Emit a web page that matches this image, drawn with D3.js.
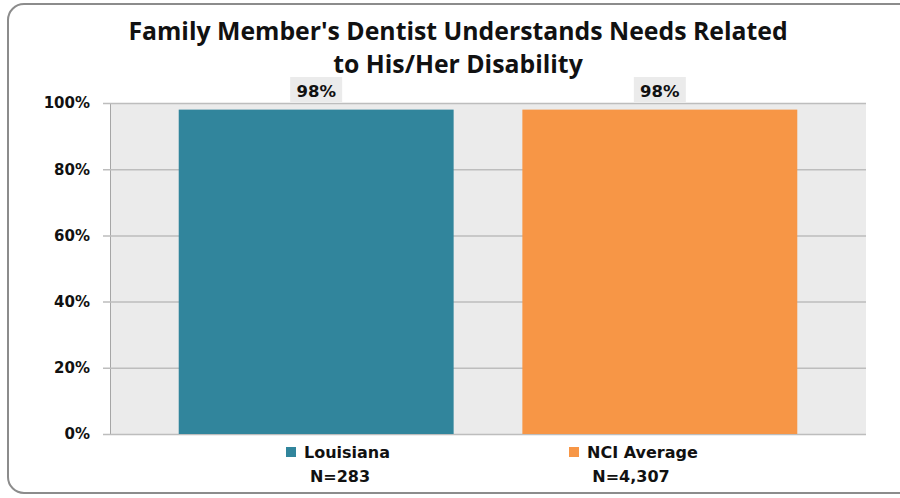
<!DOCTYPE html>
<html>
<head>
<meta charset="utf-8">
<script src="https://cdn.jsdelivr.net/npm/d3@7"></script>
<style>
  body { margin: 0; background: #fff; }
  svg { display: block; }
</style>
</head>
<body>
<div id="chart"></div>
<script>
const categories = ["Louisiana", "NCI Average"];
const values = [98, 98];
const sampleSizes = ["N=283", "N=4,307"];
const barColors = ["#31859c", "#f79646"];
const yTicks = [0, 20, 40, 60, 80, 100];
const titleLines = ["Family Member's Dentist Understands Needs Related", "to His/Her Disability"];

const W = 900, H = 498;
const plot = {left: 110, right: 866, top: 103, bottom: 434};
const textFont = "'Open Sans', Lato, sans-serif";
const numFont = "'DejaVu Sans', Verdana, sans-serif";

const svg = d3.select("#chart").append("svg")
  .attr("width", W).attr("height", H);

// outer frame
svg.append("rect")
  .attr("x", 8).attr("y", 4)
  .attr("width", 930).attr("height", 489)
  .attr("rx", 16)
  .attr("fill", "#fff")
  .attr("stroke", "#8c8c8c")
  .attr("stroke-width", 2);

// title, two lines
svg.selectAll(".title")
  .data(titleLines)
  .enter().append("text")
  .attr("class", "title")
  .attr("x", 458)
  .attr("y", (d, i) => 40 + i * 33)
  .attr("text-anchor", "middle")
  .style("font-family", textFont)
  .style("font-weight", "bold")
  .style("font-size", "24.8px")
  .style("fill", "#111")
  .text(d => d);

const x = d3.scaleBand().domain(categories)
  .range([plot.left, plot.right]).padding(0.2);
const y = d3.scaleLinear().domain([0, 100]).range([plot.bottom, plot.top]);

// plot background
svg.append("rect")
  .attr("x", plot.left).attr("y", plot.top)
  .attr("width", plot.right - plot.left).attr("height", plot.bottom - plot.top)
  .attr("fill", "#ebebeb");

// y axis with gridlines
const yAxis = d3.axisLeft(y)
  .tickValues(yTicks)
  .tickFormat(d => d + "%")
  .tickSize(-(plot.right - plot.left))
  .tickPadding(20);

const gy = svg.append("g")
  .attr("transform", "translate(" + plot.left + ",0)")
  .call(yAxis);
gy.select(".domain").attr("stroke", "#a6a6a6");
gy.selectAll(".tick line")
  .attr("x1", -7)
  .attr("stroke", "#bdbdbd")
  .attr("stroke-width", 1.5);
gy.selectAll(".tick text")
  .style("font-family", numFont)
  .style("font-weight", "bold")
  .style("font-size", "15px")
  .style("fill", "#111");

// bars
svg.selectAll(".bar")
  .data(categories)
  .enter().append("rect")
  .attr("class", "bar")
  .attr("x", d => x(d))
  .attr("y", (d, i) => y(values[i]))
  .attr("width", x.bandwidth())
  .attr("height", (d, i) => y(0) - y(values[i]))
  .attr("fill", (d, i) => barColors[i]);

// value labels
const lbl = svg.selectAll(".lbl")
  .data(categories)
  .enter().append("g")
  .attr("class", "lbl")
  .attr("transform", d => "translate(" + (x(d) + x.bandwidth() / 2) + ",0)");
lbl.append("rect")
  .attr("x", -26).attr("y", 77)
  .attr("width", 52).attr("height", 25)
  .attr("fill", "#ebebeb");
lbl.append("text")
  .attr("y", 97)
  .attr("text-anchor", "middle")
  .style("font-family", numFont)
  .style("font-weight", "bold")
  .style("font-size", "16.5px")
  .style("fill", "#111")
  .text((d, i) => values[i] + "%");

// legend
const legendX = [286, 569];
const nX = [340, 631];
const leg = svg.selectAll(".legend")
  .data(categories)
  .enter().append("g")
  .attr("class", "legend");
leg.append("rect")
  .attr("x", (d, i) => legendX[i]).attr("y", 447)
  .attr("width", 10).attr("height", 10)
  .attr("fill", (d, i) => barColors[i]);
leg.append("text")
  .attr("x", (d, i) => legendX[i] + 18).attr("y", 458)
  .style("font-family", numFont)
  .style("font-weight", "bold")
  .style("font-size", "16px")
  .style("fill", "#111")
  .text(d => d);
leg.append("text")
  .attr("x", (d, i) => nX[i]).attr("y", 482)
  .attr("text-anchor", "middle")
  .style("font-family", numFont)
  .style("font-weight", "bold")
  .style("font-size", "16px")
  .style("fill", "#111")
  .text((d, i) => sampleSizes[i]);
</script>
</body>
</html>
